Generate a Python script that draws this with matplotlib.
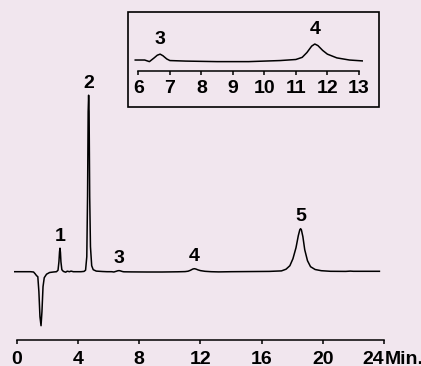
import matplotlib
matplotlib.use('Agg')
import matplotlib.pyplot as plt
from matplotlib.patches import Rectangle

# chromatogram trace (time in min, signal in arbitrary units)
trace_time = [-0.13, 0.9, 1.1, 1.2, 1.3, 1.38, 1.45, 1.52, 1.59, 1.65, 1.72, 1.8, 1.95,
              2.15, 2.4, 2.6, 2.7, 2.76, 2.80, 2.83, 2.86, 2.89, 2.95, 3.05, 3.2, 3.3,
              3.45, 3.55, 3.7, 4.2, 4.4, 4.5, 4.58, 4.63, 4.67, 4.70, 4.73, 4.77, 4.82,
              4.9, 5.0, 5.2, 5.6, 5.9, 6.2, 6.35, 6.5, 6.6, 6.69, 6.78, 6.9, 7.0, 7.5,
              8.5, 9.5, 10.5, 11.0, 11.2, 11.35, 11.5, 11.6, 11.7, 11.85, 12.0, 12.3,
              12.7, 13.2, 14.0, 16.5, 17.3, 17.6, 17.85, 18.05, 18.25, 18.4, 18.5,
              18.55, 18.6, 18.7, 18.82, 19.0, 19.2, 19.5, 19.9, 20.5, 21.5, 21.8,
              22.0, 23.7]
trace_signal = [0, 0, -0.3, -2, -4, -5, -20, -45, -54, -40, -15, -6, -2.5,
                -0.8, -0.3, 0, 1.5, 10, 20, 23.5, 19, 10, 2, 0.3, -0.5, 0.5,
                0, 0.6, 0, 0, 0.3, 1.5, 15, 75, 160, 176.5, 160, 75, 25,
                6, 2, 0.6, 0.2, 0, 0, -0.3, 0.4, 0.9, 1.1, 0.8, 0.2, -0.1, -0.2,
                -0.3, -0.3, -0.1, 0.1, 0.5, 1.4, 2.6, 3.0, 2.7, 1.8, 1.1, 0.4,
                0, -0.2, 0, 0.3, 0.8, 2.5, 6, 13, 24, 36, 42,
                43, 42, 35, 22, 11, 5, 2.2, 1.0, 0.4, 0.3, 0.6,
                0.4, 0.4]

peak_names = ['1', '2', '3', '4', '5']
peak_times = [2.83, 4.70, 6.69, 11.6, 18.55]
peak_heights = [23.5, 176.5, 1.1, 3.0, 43]

main_ticks = [0, 4, 8, 12, 16, 20, 24]
inset_ticks = [6, 7, 8, 9, 10, 11, 12, 13]
inset_peaks = ['3', '4']

bg = '#f1e6ee'
W, H = 421, 366
plt.rcParams['font.family'] = ['Liberation Sans', 'DejaVu Sans']
plt.rcParams['font.weight'] = 'bold'
fs = 14


def px_axes(fig, left, right, top, bottom):
    return fig.add_axes([left / W, 1 - bottom / H, (right - left) / W, (bottom - top) / H])


fig = plt.figure(figsize=(W / 100, H / 100), dpi=100, facecolor=bg)

################ main chromatogram
ax = px_axes(fig, 14.4, 384, 80, 340)
ax.set_facecolor('none')
ax.plot(trace_time, trace_signal, color='black', lw=1.1)
ax.set_xlim(-0.15, 24)
ax.set_ylim(-68.3, 191.7)
for s in ['top', 'left', 'right']:
    ax.spines[s].set_visible(False)
ax.spines['bottom'].set_bounds(0, 24)
ax.spines['bottom'].set_linewidth(1.1)
ax.set_yticks([])
ax.set_xticks(main_ticks)
ax.set_xticklabels([str(t) for t in main_ticks], fontsize=fs, fontweight='bold')
ax.tick_params(axis='x', direction='out', length=3, width=1.1, pad=5)
ax.get_xticklabels()[-1].set_ha('right')
ax.annotate('Min.', (24, 0), xycoords=('data', 'axes fraction'), xytext=(0.5, -8),
            textcoords='offset points', ha='left', va='top', fontsize=fs, fontweight='bold')

for name, t, h in zip(peak_names, peak_times, peak_heights):
    ax.annotate(name, (t, h), xytext=(0, 8.5), textcoords='offset points',
                ha='center', va='center', fontsize=fs, fontweight='bold')

################ inset
fig.add_artist(Rectangle((127.7 / W, 1 - 106.7 / H), (379.3 - 127.7) / W, (106.7 - 12.3) / H,
                         transform=fig.transFigure, fill=False, lw=1.2, ec='black'))
axi = px_axes(fig, 134.3, 363.3, 40, 70.7)
axi.set_facecolor('none')
sel = [(t, s) for t, s in zip(trace_time, trace_signal) if 5.85 <= t <= 13.2]
axi.plot([p[0] for p in sel], [p[1] for p in sel], color='black', lw=1.1)
axi.set_xlim(5.87, 13.14)
axi.set_ylim(-2.0, 3.75)
for s in ['top', 'left', 'right']:
    axi.spines[s].set_visible(False)
axi.spines['bottom'].set_bounds(6, 13)
axi.spines['bottom'].set_linewidth(1.1)
axi.set_yticks([])
axi.set_xticks(inset_ticks)
axi.set_xticklabels([str(t) for t in inset_ticks], fontsize=fs, fontweight='bold')
axi.tick_params(axis='x', direction='out', length=3, width=1.1, pad=4)
for name, t, h in zip(peak_names, peak_times, peak_heights):
    if name in inset_peaks:
        axi.annotate(name, (t, h), xytext=(0, 10.5), textcoords='offset points',
                     ha='center', va='center', fontsize=fs, fontweight='bold')

fig.savefig('out.png', dpi=100, facecolor=bg)
